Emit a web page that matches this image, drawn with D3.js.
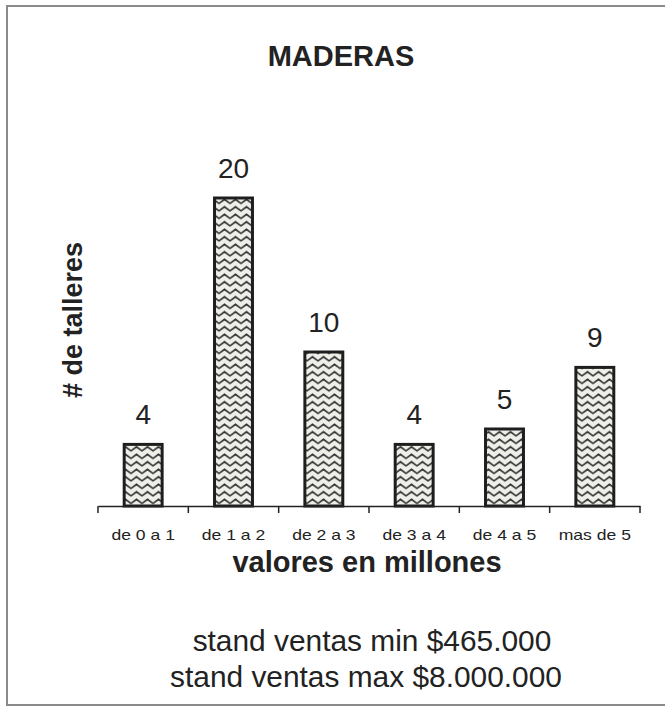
<!DOCTYPE html>
<html>
<head>
<meta charset="utf-8">
<script src="https://cdn.jsdelivr.net/npm/d3@7"></script>
<style>
  body { margin: 0; background: #fff; }
  text { font-family: "Liberation Sans", Arial, sans-serif; fill: #222; }
</style>
</head>
<body>
<div id="canvas"></div>
<script>
const categories = ['de 0 a 1', 'de 1 a 2', 'de 2 a 3', 'de 3 a 4', 'de 4 a 5', 'mas de 5'];
const talleres = [4, 20, 10, 4, 5, 9];
const notes = ['stand ventas min $465.000', 'stand ventas max $8.000.000'];

const W = 665, H = 708;
const MARGIN = { LEFT: 98, RIGHT: 25, TOP: 198, BOTTOM: 202 };
const WIDTH = W - MARGIN.LEFT - MARGIN.RIGHT;
const HEIGHT = H - MARGIN.TOP - MARGIN.BOTTOM;

// the scan is slightly wider than the font, stretch text horizontally
function stretch(sel, k) {
  sel.each(function() {
    const len = this.getComputedTextLength();
    d3.select(this)
      .attr('textLength', len * k)
      .attr('lengthAdjust', 'spacingAndGlyphs');
  });
}

const svg = d3.select('#canvas').append('svg')
  .attr('width', W)
  .attr('height', H);

// frame of the scanned page
svg.append('path')
  .attr('d', `M${W + 5},6 L7,6 L7,705 L${W + 5},705`)
  .attr('fill', 'none')
  .attr('stroke', '#8a8a8a')
  .attr('stroke-width', 2);

const defs = svg.append('defs');
const pat = defs.append('pattern')
  .attr('id', 'zigzag')
  .attr('patternUnits', 'userSpaceOnUse')
  .attr('width', 11)
  .attr('height', 7.5);
pat.append('rect').attr('width', 11).attr('height', 7.5).attr('fill', '#efefea');
pat.append('path')
  .attr('d', 'M-2.75,3.6 L0,5.4 L5.5,1.4 L11,5.4 L13.75,3.6')
  .attr('fill', 'none')
  .attr('stroke', '#333')
  .attr('stroke-width', 1.7);

const g = svg.append('g')
  .attr('transform', `translate(${MARGIN.LEFT}, ${MARGIN.TOP})`);

const x = d3.scaleBand()
  .domain(categories)
  .range([0, WIDTH])
  .paddingInner(0.58)
  .paddingOuter(0.29);

const y = d3.scaleLinear()
  .domain([0, 20])
  .range([HEIGHT, 0]);

// bars
g.selectAll('rect.bar')
  .data(talleres)
  .enter().append('rect')
    .attr('class', 'bar')
    .attr('x', (d, i) => x(categories[i]))
    .attr('y', d => y(d))
    .attr('width', x.bandwidth())
    .attr('height', d => HEIGHT - y(d))
    .attr('fill', 'url(#zigzag)')
    .attr('stroke', '#1e1e1e')
    .attr('stroke-width', 3);

// value labels
g.selectAll('text.val')
  .data(talleres)
  .enter().append('text')
    .attr('class', 'val')
    .attr('x', (d, i) => x(categories[i]) + x.bandwidth() / 2)
    .attr('y', d => y(d) - 20)
    .attr('text-anchor', 'middle')
    .style('font-size', '28px')
    .text(d => d);

// x axis: labels centred, ticks on band boundaries
const xAxis = g.append('g')
  .attr('transform', `translate(0, ${HEIGHT})`)
  .call(d3.axisBottom(x).tickSize(0).tickPadding(23));
xAxis.select('.domain')
  .attr('stroke', '#222')
  .attr('stroke-width', 1.5);
xAxis.selectAll('text')
  .style('font-size', '15px')
  .style('font-family', '"Liberation Sans", Arial, sans-serif')
  .attr('fill', '#222')
  .call(stretch, 1.17);

const bounds = d3.range(categories.length + 1).map(i => i * x.step());
xAxis.selectAll('line.bound')
  .data(bounds)
  .enter().append('line')
    .attr('class', 'bound')
    .attr('x1', d => d).attr('x2', d => d)
    .attr('y1', 0).attr('y2', 7)
    .attr('stroke', '#222')
    .attr('stroke-width', 1.5);

// titles
svg.append('text')
  .attr('x', 341)
  .attr('y', 66)
  .attr('text-anchor', 'middle')
  .style('font-size', '29px')
  .style('font-weight', 'bold')
  .text('MADERAS');

svg.append('text')
  .attr('transform', 'translate(82, 320) rotate(-90)')
  .attr('text-anchor', 'middle')
  .style('font-size', '27px')
  .style('font-weight', 'bold')
  .text('# de talleres');

svg.append('text')
  .attr('x', 367)
  .attr('y', 572)
  .attr('text-anchor', 'middle')
  .style('font-size', '29px')
  .style('font-weight', 'bold')
  .text('valores en millones');

svg.selectAll('text.note')
  .data(notes)
  .enter().append('text')
    .attr('class', 'note')
    .attr('x', (d, i) => i ? 366 : 372)
    .attr('y', (d, i) => 651 + i * 36)
    .attr('text-anchor', 'middle')
    .style('font-size', '29px')
    .text(d => d)
    .call(stretch, 1.03);
</script>
</body>
</html>
